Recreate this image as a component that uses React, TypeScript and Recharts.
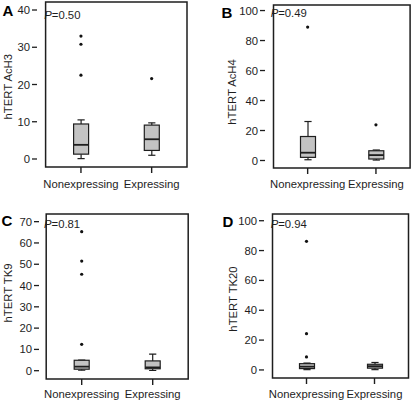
import React from "react";
import { ComposedChart, Bar, Line, XAxis, YAxis, ReferenceArea } from "recharts";

const groups = ["Nonexpressing", "Expressing"];

// per group: [whisker low, Q1, median, Q3, whisker high]
const ach3Stats = [
  [0.1, 1.3, 3.8, 9.4, 10.5],
  [1.0, 2.3, 5.3, 9.1, 9.7],
];
const ach3Outliers = [[33.0, 30.8, 22.5], [21.6]];
const ach3Ticks = [0, 10, 20, 30, 40];

const ach4Stats = [
  [0.5, 2.1, 5.2, 16.0, 26.0],
  [0.3, 1.0, 3.6, 6.5, 7.0],
];
const ach4Outliers = [[89.0], [23.8]];
const ach4Ticks = [0, 20, 40, 60, 80, 100];

const tk9Stats = [
  [0.2, 0.7, 1.9, 4.9, 5.0],
  [0.1, 0.9, 1.5, 4.6, 7.8],
];
const tk9Outliers = [[65.3, 51.5, 45.3, 12.4], []];
const tk9Ticks = [0, 10, 20, 30, 40, 50, 60, 70];

const tk20Stats = [
  [0.2, 0.9, 2.2, 4.2, 4.6],
  [0.2, 1.2, 2.5, 3.8, 5.0],
];
const tk20Outliers = [[86.2, 24.3, 8.7], []];
const tk20Ticks = [0, 20, 40, 60, 80, 100];

const FONT = "'Liberation Sans', Arial, Helvetica, sans-serif";
const INK = "#1e1e1e";

function toRows(stats: number[][], outliers: number[][]) {
  return groups.map((name, i) => {
    const [lo, q1, med, q3, hi] = stats[i];
    const o = outliers[i];
    return { name, lo, q1, med, q3, hi, o1: o[0], o2: o[1], o3: o[2], o4: o[3] };
  });
}

// bar covers the whisker range; everything else placed on the same linear scale
const BoxShape = (props: any) => {
  const { x, y, width, height, payload } = props;
  if (!payload || height == null) return null;
  const top = Math.min(y, y + height);
  const h = Math.abs(height);
  const k = h / (payload.hi - payload.lo);
  const py = (v: number) => top + (payload.hi - v) * k;
  const cx = x + width / 2;
  const cap = width * 0.24;
  return (
    <g stroke={INK} strokeWidth={1.2} fill="none">
      <line x1={cx} x2={cx} y1={py(payload.hi)} y2={py(payload.q3)} />
      <line x1={cx} x2={cx} y1={py(payload.q1)} y2={py(payload.lo)} />
      <line x1={cx - cap} x2={cx + cap} y1={py(payload.hi)} y2={py(payload.hi)} />
      <line x1={cx - cap} x2={cx + cap} y1={py(payload.lo)} y2={py(payload.lo)} />
      <rect
        x={x}
        y={py(payload.q3)}
        width={width}
        height={py(payload.q1) - py(payload.q3)}
        fill="#c3c3c3"
      />
      <line x1={x} x2={x + width} y1={py(payload.med)} y2={py(payload.med)} strokeWidth={1.8} />
    </g>
  );
};

// category tick: short mark hanging under the frame plus the label
const makeXTick = (gap: number) => (props: any) => {
  const { x, y, payload } = props;
  const base = y - gap - 6;
  return (
    <g>
      <line x1={x} x2={x} y1={base} y2={base + 6} stroke={INK} strokeWidth={1.4} />
      <text x={x} y={y} dy="0.71em" textAnchor="middle" fontSize={11.3} fill={INK} fontFamily={FONT}>
        {payload.value}
      </text>
    </g>
  );
};

interface Layout {
  left: number;
  top: number;
  width: number;
  height: number;
  margin: { top: number; right: number; bottom: number; left: number };
  domain: [number, number];
  padding: { left: number; right: number };
  tickMargin: number;
}

const layoutA: Layout = {
  left: 0, top: 0, width: 210, height: 200,
  margin: { top: 2, right: 15, bottom: 3, left: 7 },
  domain: [-2.15, 42.15], padding: { left: 8.6, right: 8 }, tickMargin: 7,
};
const layoutB: Layout = {
  left: 210, top: 0, width: 210, height: 200,
  margin: { top: 5, right: 5, bottom: 2, left: 25 },
  domain: [-5.0, 103.7], padding: { left: 8.5, right: 4.9 }, tickMargin: 6,
};
const layoutC: Layout = {
  left: 0, top: 200, width: 210, height: 202,
  margin: { top: 14, right: 14, bottom: -7, left: 9 },
  domain: [-3.9, 73.6], padding: { left: 7.2, right: 7.8 }, tickMargin: 5,
};
const layoutD: Layout = {
  left: 210, top: 200, width: 210, height: 202,
  margin: { top: 14, right: 4, bottom: -6, left: 24 },
  domain: [-5.4, 104.5], padding: { left: 8.5, right: 7.5 }, tickMargin: 6,
};

function Panel({ layout, ticks, rows }: { layout: Layout; ticks: number[]; rows: any[] }) {
  const { left, top, width, height, margin, domain, padding, tickMargin } = layout;
  const tickStyle = { fontSize: 11.3, fill: INK, fontFamily: FONT };
  return (
    <div style={{ position: "absolute", left, top, width, height }}>
      <ComposedChart width={width} height={height} data={rows} margin={margin}>
        <XAxis
          dataKey="name"
          type="category"
          padding={padding}
          height={30}
          axisLine={false}
          tickLine={false}
          tickSize={6}
          tickMargin={tickMargin}
          tick={makeXTick(tickMargin)}
          interval={0}
        />
        <YAxis
          type="number"
          domain={domain}
          ticks={ticks}
          allowDataOverflow
          width={30}
          axisLine={false}
          tickSize={5}
          tickMargin={2}
          tickLine={{ stroke: INK, strokeWidth: 1.3 }}
          tick={tickStyle}
          interval={0}
        />
        {/* plot frame: spans the whole y domain and the full x range */}
        <ReferenceArea
          y1={domain[0]}
          y2={domain[1]}
          fill="none"
          fillOpacity={0}
          stroke={INK}
          strokeWidth={1.5}
          ifOverflow="visible"
        />
        <Bar dataKey={(d: any) => [d.lo, d.hi]} barSize={15} shape={BoxShape} isAnimationActive={false} />
        {["o1", "o2", "o3", "o4"].map((k) => (
          <Line
            key={k}
            dataKey={k}
            stroke="none"
            dot={{ r: 1.6, fill: "#111", stroke: "none" }}
            activeDot={false}
            isAnimationActive={false}
          />
        ))}
      </ComposedChart>
    </div>
  );
}

export default function App() {
  const labelStyle = { fontSize: 11.3, fill: INK, fontFamily: FONT };
  const letterStyle = { fontSize: 15, fontWeight: 700, fill: "#000", fontFamily: FONT };
  return (
    <div style={{ position: "absolute", left: 0, top: 0, width: 420, height: 402, background: "#fff" }}>
      <Panel layout={layoutA} ticks={ach3Ticks} rows={toRows(ach3Stats, ach3Outliers)} />
      <Panel layout={layoutB} ticks={ach4Ticks} rows={toRows(ach4Stats, ach4Outliers)} />
      <Panel layout={layoutC} ticks={tk9Ticks} rows={toRows(tk9Stats, tk9Outliers)} />
      <Panel layout={layoutD} ticks={tk20Ticks} rows={toRows(tk20Stats, tk20Outliers)} />
      <svg
        width={420}
        height={402}
        style={{ position: "absolute", left: 0, top: 0, pointerEvents: "none" }}
      >
        <text x={2.5} y={16} style={letterStyle}>A</text>
        <text x={221.5} y={18.3} style={letterStyle}>B</text>
        <text x={1.5} y={226} style={letterStyle}>C</text>
        <text x={222.5} y={226.7} style={letterStyle}>D</text>

        <text x={44.3} y={19} style={labelStyle}><tspan fontStyle="italic">P</tspan>=0.50</text>
        <text x={270.7} y={17} style={labelStyle}><tspan fontStyle="italic">P</tspan>=0.49</text>
        <text x={44} y={228} style={labelStyle}><tspan fontStyle="italic">P</tspan>=0.81</text>
        <text x={270.7} y={227.7} style={labelStyle}><tspan fontStyle="italic">P</tspan>=0.94</text>

        <text transform="translate(11.5,86.7) rotate(-90)" textAnchor="middle" style={labelStyle}>hTERT AcH3</text>
        <text transform="translate(235.5,92) rotate(-90)" textAnchor="middle" style={labelStyle}>hTERT AcH4</text>
        <text transform="translate(11.5,293) rotate(-90)" textAnchor="middle" style={labelStyle}>hTERT TK9</text>
        <text transform="translate(237,299) rotate(-90)" textAnchor="middle" style={labelStyle}>hTERT TK20</text>
      </svg>
    </div>
  );
}
